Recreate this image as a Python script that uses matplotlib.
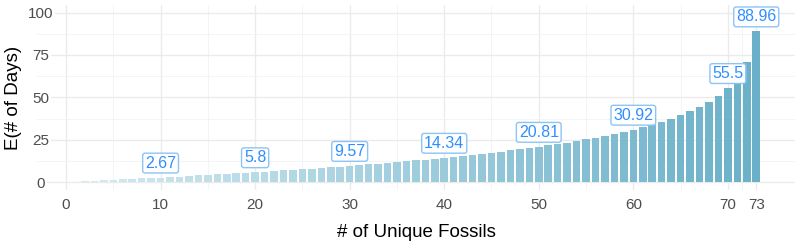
import matplotlib
matplotlib.use("Agg")
import matplotlib.pyplot as plt
import numpy as np
from matplotlib.colors import LinearSegmentedColormap

plt.rcParams['font.family'] = ['Liberation Sans', 'DejaVu Sans']

fossils = list(range(1, 74))
exp_days = [0.25, 0.50, 0.76, 1.02, 1.29, 1.55, 1.83, 2.10, 2.38, 2.67,
            2.96, 3.25, 3.55, 3.86, 4.17, 4.48, 4.80, 5.13, 5.46, 5.80,
            6.14, 6.49, 6.85, 7.21, 7.59, 7.97, 8.36, 8.75, 9.16, 9.57,
            10.00, 10.43, 10.88, 11.33, 11.80, 12.28, 12.77, 13.28, 13.80, 14.34,
            14.89, 15.46, 16.05, 16.66, 17.29, 17.94, 18.62, 19.32, 20.05, 20.81,
            21.60, 22.43, 23.30, 24.21, 25.17, 26.19, 27.26, 28.40, 29.62, 30.92,
            32.33, 33.85, 35.51, 37.33, 39.36, 41.64, 44.25, 47.29, 50.94, 55.50,
            61.58, 70.71, 88.96]
label_x = [10, 20, 30, 40, 50, 60, 70, 73]
label_text = ["2.67", "5.8", "9.57", "14.34", "20.81", "30.92", "55.5", "88.96"]
x_ticks = [0, 10, 20, 30, 40, 50, 60, 70, 73]
y_ticks = [0, 25, 50, 75, 100]

fig = plt.figure(figsize=(8, 2.5), dpi=100)
ax = fig.add_axes([0.04625, 0.24, 0.9475, 0.74])

cmap = LinearSegmentedColormap.from_list("g", ["#d4eaf1", "#6ab0c9"])
xs = np.array(fossils)
colors = cmap((xs - xs.min()) / (xs.max() - xs.min()))
ax.bar(fossils, exp_days, width=0.8, color=colors, zorder=2)

for xv, t in zip(label_x, label_text):
    yv = exp_days[fossils.index(xv)]
    ax.annotate(t, (xv, yv), xytext=(0, 5), textcoords="offset points",
                ha="center", va="bottom", fontsize=11.5, color="#2f8fff",
                bbox=dict(boxstyle="round,pad=0.15,rounding_size=0.15",
                          fc="white", ec="#8cc4f7", lw=1.0), zorder=3)

ax.set_xlim(-3.07, 77.1)
ax.set_ylim(-4.7, 104.5)
ax.set_xticks(x_ticks)
ax.set_yticks(y_ticks)
ax.set_xticks([5, 15, 25, 35, 45, 55, 65, 71.5], minor=True)
ax.set_yticks([12.5, 37.5, 62.5, 87.5], minor=True)
ax.grid(True, which="major", color="#ebebeb", lw=1.0, zorder=0)
ax.grid(True, which="minor", color="#f3f3f3", lw=0.6, zorder=0)
ax.tick_params(which="both", length=0, labelsize=11, labelcolor="#4d4d4d")
ax.tick_params(axis="x", pad=6)
ax.tick_params(axis="y", pad=-2.5)
for lab in ax.get_yticklabels():
    lab.set_horizontalalignment("center")
    lab.set_bbox(dict(fc="white", ec="none", pad=1.5))
for s in ax.spines.values():
    s.set_visible(False)
ax.set_axisbelow(True)

ax.set_xlabel("# of Unique Fossils", fontsize=13.5)
ax.set_ylabel("E(# of Days)", fontsize=13.5)
ax.xaxis.set_label_coords(0.5, -0.185)
ax.yaxis.set_label_coords(-0.02, 0.5)

fig.savefig("out.png", dpi=100)
